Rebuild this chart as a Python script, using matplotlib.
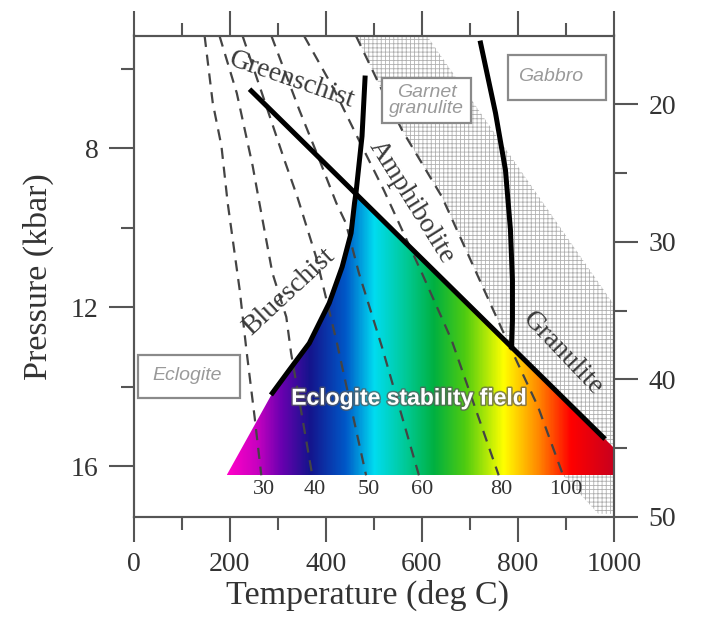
import matplotlib
matplotlib.use('Agg')
import matplotlib.pyplot as plt
import matplotlib.patheffects as pe
from matplotlib.colors import LinearSegmentedColormap
from matplotlib.patches import Polygon, Rectangle
import numpy as np

plt.rcParams.update({
    'font.family': 'serif',
    'font.serif': ['Liberation Serif', 'DejaVu Serif'],
    'hatch.linewidth': 0.6,
})

# ── axis ranges ──
T_LIM = (0, 1000)          # deg C
P_LIM = (17.28, 5.17)      # kbar (inverted)
Z_LIM = (50, 15)           # km

# ── geotherms (T, P) ──
geo_labels = ['30', '40', '50', '60', '80', '100']
geo_T = [
    [148, 165, 183, 196, 221, 235, 252, 266],
    [179, 215, 248, 262, 289, 318, 328, 372],
    [227, 279, 314, 341, 380, 422, 484],
    [287, 345, 387, 422, 442, 469, 517, 594],
    [355, 418, 469, 521, 600, 662, 760],
    [463, 517, 559, 642, 774, 842, 894],
]
geo_P = [
    [5.18, 6.87, 7.95, 9.38, 11.57, 13.08, 14.76, 16.23],
    [5.18, 6.62, 8.45, 9.38, 11.14, 12.25, 13.16, 16.23],
    [5.18, 7.04, 8.30, 9.23, 10.74, 12.83, 16.23],
    [5.18, 7.04, 8.30, 9.38, 9.89, 11.14, 13.00, 16.23],
    [5.18, 6.54, 7.80, 9.06, 11.14, 12.83, 16.23],
    [5.18, 6.54, 7.55, 9.23, 12.75, 14.51, 16.23],
]

# ── facies boundaries ──
gs_T = [241.5, 981.3]                      # greenschist/amphibolite -> eclogite
gs_P = [6.52, 15.32]
bs_T = [289.1, 324.4, 365.8, 407.3, 434.2, 452.8, 460.0, 463.2, 475.6, 481.9]  # blueschist
bs_P = [14.16, 13.58, 12.91, 11.90, 10.99, 10.14, 9.38, 9.11, 7.70, 6.24]
bs_vertex = 7
gb_T = [722.3, 753.4, 774.1, 784.5, 788.6, 788.6, 786.5]   # gabbro / garnet granulite
gb_P = [5.36, 7.12, 8.55, 10.06, 11.32, 12.33, 13.00]

# eclogite stability field
ecl_T0, ecl_Pbase = 193.8, 16.23
cmap_T = [194, 255, 305, 365, 440, 500, 570, 625, 690, 770, 840, 910, 1000]
cmap_c = ['#ff00c8', '#c800c0', '#6a00b0', '#14148c', '#0058c8', '#00dcf0', '#00c890',
          '#00b040', '#50cc10', '#ffff00', '#ff8c00', '#ff0000', '#c8001e']

# granulite hatch band (right edge)
hatch_right_T = [1000, 1000, 610.4]
hatch_right_P = [17.2, 11.94, 5.17]
hatch_low_T, hatch_low_P = 967, 17.2

fig = plt.figure(figsize=(7.02, 6.21), dpi=100)
ax = fig.add_axes([133.5/702, 1-517/621, 480.5/702, 481.5/621])

# hatch
hx = geo_T[-1] + [hatch_low_T] + hatch_right_T
hy = geo_P[-1] + [hatch_low_P] + hatch_right_P
ax.add_patch(Polygon(np.column_stack([hx, hy]), closed=True, facecolor='white',
                     edgecolor='#b0b0b0', lw=0, hatch='++++', zorder=1))

# coloured eclogite field, clipped to its outline
slope = (gs_P[1] - gs_P[0]) / (gs_T[1] - gs_T[0])
p_right = gs_P[0] + slope * (T_LIM[1] - gs_T[0])
vx = [ecl_T0] + bs_T[:bs_vertex + 1] + [T_LIM[1], T_LIM[1]]
vy = [ecl_Pbase] + bs_P[:bs_vertex + 1] + [p_right, ecl_Pbase]
clip = Polygon(np.column_stack([vx, vy]), closed=True, facecolor='none', edgecolor='none')
ax.add_patch(clip)
pos = [(t - cmap_T[0]) / (cmap_T[-1] - cmap_T[0]) for t in cmap_T]
cmap = LinearSegmentedColormap.from_list('ecl', list(zip(pos, cmap_c)))
grad = np.linspace(cmap_T[0], cmap_T[-1], 600)[np.newaxis, :]
im = ax.imshow(grad, extent=(cmap_T[0], cmap_T[-1], ecl_Pbase, min(bs_P[:bs_vertex + 1]) - 0.2),
               cmap=cmap, aspect='auto', interpolation='bilinear', zorder=2)
im.set_clip_path(clip)

# geotherms
for gT, gP, lab in zip(geo_T, geo_P, geo_labels):
    ax.plot(gT, gP, color='#444444', lw=1.6, dashes=(5, 3.5), zorder=3)
    ax.text(gT[-1] + 6, gP[-1] + 0.37, lab, fontsize=16, color='#333333',
            ha='center', va='center', zorder=5)

# thick boundaries
ax.plot(gs_T, gs_P, color='black', lw=3.6, solid_capstyle='butt', zorder=4)
ax.plot(bs_T, bs_P, color='black', lw=3.6, zorder=4)
ax.plot(gb_T, gb_P, color='black', lw=3.6, zorder=4)

# facies names
lab_kw = dict(fontsize=20, color='#3a3a3a', ha='center', va='center',
              rotation_mode='anchor', zorder=5)
ax.text(330.6, 6.29, 'Greenschist', rotation=-19, **lab_kw)
ax.text(579.3, 9.36, 'Amphibolite', rotation=-58, **lab_kw)
ax.text(324.4, 11.62, 'Blueschist', rotation=43, **lab_kw)
ax.text(894.3, 13.16, 'Granulite', rotation=-46.5, **lab_kw)

# boxed rock names
box_kw = dict(facecolor='white', edgecolor='#8a8a8a', lw=1.6, zorder=5)
txt_kw = dict(family='Liberation Sans', style='italic', fontsize=14, color='#9a9a9a',
              ha='center', va='center', zorder=6)
ax.add_patch(Rectangle((517.6, 6.24), 185.5, 1.13, **box_kw))
ax.text(610, 6.80, 'Garnet\ngranulite', linespacing=0.95, **txt_kw)
ax.add_patch(Rectangle((780.3, 5.66), 203.1, 1.13, **box_kw))
ax.text(867.4, 6.21, 'Gabbro', **txt_kw)
ax.add_patch(Rectangle((9.3, 13.21), 211.4, 1.08, **box_kw))
ax.text(112.4, 13.71, 'Eclogite', **txt_kw)

ax.text(573, 14.29, 'Eclogite stability field', family='Liberation Sans', weight='bold',
        fontsize=16.5, color='white', ha='center', va='center', zorder=6,
        path_effects=[pe.Stroke(linewidth=2.2, foreground='#5a5a5a', alpha=0.7), pe.Normal()])

# axes
ax.set_xlim(*T_LIM)
ax.set_ylim(*P_LIM)
ax.set_xticks(np.arange(0, 1001, 200))
ax.set_xticks(np.arange(100, 1000, 200), minor=True)
ax.set_yticks([8, 12, 16])
ax.set_yticks([6, 10, 14], minor=True)
ax.tick_params(which='both', direction='out', width=1.5, color='#555555',
               labelsize=20, labelcolor='#333333', top=True, labeltop=False)
ax.tick_params(which='major', length=18, pad=7)
ax.tick_params(which='minor', length=9.5)
ax.set_xlabel('Temperature (deg C)', fontsize=24.5, color='#333333')
ax.set_ylabel('Pressure (kbar)', fontsize=24.5, color='#333333')
ax.xaxis.set_label_coords(0.488, -0.13)
ax.yaxis.set_label_coords(-0.165, 0.5)

ax2 = ax.twinx()
ax2.set_ylim(*Z_LIM)
ax2.set_yticks([20, 30, 40, 50])
ax2.set_yticks([25, 35, 45], minor=True)
ax2.tick_params(which='both', direction='out', width=1.5, color='#555555',
                labelsize=20, labelcolor='#333333')
ax2.tick_params(which='major', length=17, pad=8)
ax2.tick_params(which='minor', length=9.5)

for a in (ax, ax2):
    for s in a.spines.values():
        s.set_color('#555555')
        s.set_linewidth(1.5)

fig.savefig('out.png', dpi=100)
